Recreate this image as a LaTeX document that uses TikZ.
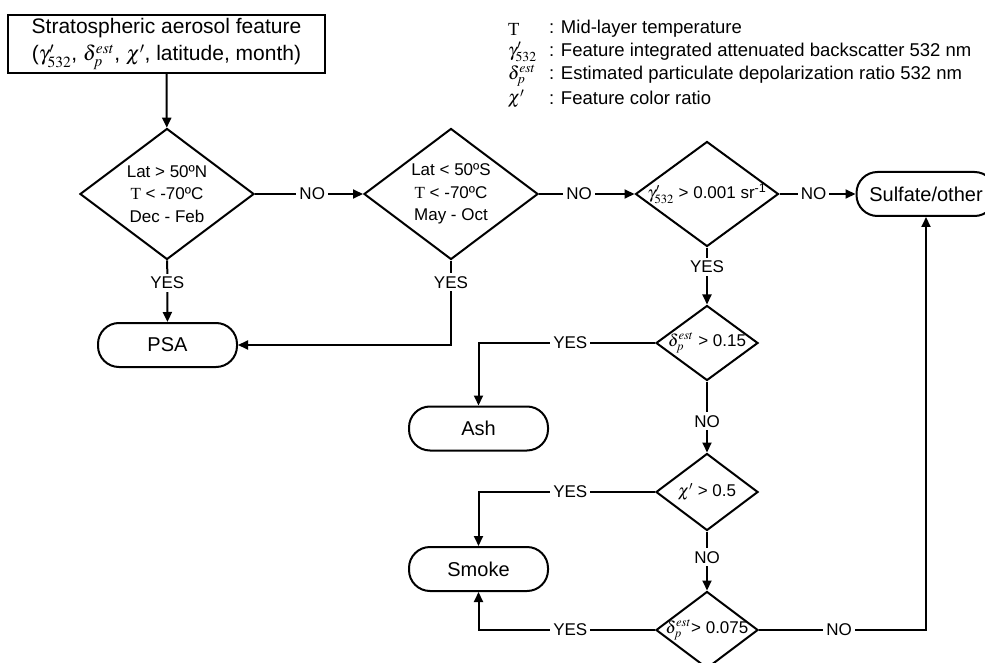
\documentclass[tikz,border=0pt]{standalone}
\usepackage{mathptmx}
\usepackage[no-math]{fontspec}
\setmainfont{Liberation Sans}
\newfontfamily\serif{Liberation Serif}
\usetikzlibrary{shapes.geometric,arrows.meta}

\begin{document}
\begin{tikzpicture}[x=1pt,y=-1pt,
    line width=2pt,
    font=\fontsize{17}{22.5}\selectfont,
    >={Triangle[length=10pt,width=9pt]},
    decision/.style={diamond, draw, inner sep=0pt},
    terminal/.style={draw, rounded corners=21pt, minimum width=139pt, minimum height=44pt, font=\fontsize{20}{24}\selectfont},
    answer/.style={fill=white, inner sep=3pt},
    legend/.style={anchor=west, inner sep=0pt, font=\fontsize{18.5}{22}\selectfont}]
    \useasboundingbox (0,0) rectangle (985,663);

    % input box and legend
    \node[draw, align=center, inner sep=2pt, minimum width=317pt, minimum height=58pt, font=\fontsize{21}{27}\selectfont] (feature) at (166.5,44)
        {Stratospheric aerosol feature\\($\gamma'_{532}$,~$\delta_p^{est}$, $\chi'$, latitude, month)};
    \node[legend] (symT) at (507,29) {\serif T};
    \node[legend] (symG) at (507,52) {$\gamma'_{532}$};
    \node[legend] (symD) at (507,76) {$\delta_p^{est}$};
    \node[legend] (symC) at (507,99) {$\chi'$};
    \node[legend] (defT) at (548,29) {: Mid-layer temperature};
    \node[legend] (defG) at (548,52) {: Feature integrated attenuated backscatter 532 nm};
    \node[legend] (defD) at (548,75) {: Estimated particulate depolarization ratio 532 nm};
    \node[legend] (defC) at (548,98) {: Feature color ratio};

    % decisions
    \node[decision, minimum width=174pt, minimum height=131pt, label={[align=center]center:Lat > 50ºN\\{\serif T} < -70ºC\\Dec - Feb}] (nhpsa) at (167,194) {};
    \node[decision, minimum width=174pt, minimum height=131pt, label={[align=center]center:Lat < 50ºS\\{\serif T} < -70ºC\\May - Oct}] (shpsa) at (451,194) {};
    \node[decision, minimum width=143pt, minimum height=105pt, label={center:$\gamma'_{532}$ > 0.001 sr\textsuperscript{-1}}] (gamma) at (707,194) {};
    \node[decision, minimum width=102pt, minimum height=75pt, label={center:$\delta_p^{est}$ > 0.15}] (depol) at (707,343) {};
    \node[decision, minimum width=102pt, minimum height=77pt, label={center:$\chi'$ > 0.5}] (color) at (707,492) {};
    \node[decision, minimum width=102pt, minimum height=77pt, label={center:$\delta_p^{est}$> 0.075}] (depolow) at (707,630) {};

    % aerosol types
    \node[terminal] (psa) at (167.5,345) {PSA};
    \node[terminal] (ash) at (478.5,428.5) {Ash};
    \node[terminal] (smoke) at (478.5,569) {Smoke};
    \node[terminal] (sulfate) at (926,194) {Sulfate/other};

    \draw[->] (feature) -- (nhpsa);
    \draw[->] (nhpsa) -- node[answer, pos=0.53] {NO} (shpsa);
    \draw[->] (shpsa) -- node[answer, pos=0.42] {NO} (gamma);
    \draw[->] (gamma) -- node[answer, pos=0.45] {NO} (sulfate);
    \draw[->] (nhpsa) -- node[answer, pos=0.36] {YES} (psa);
    \draw[->] (shpsa) |- node[answer, pos=0.13] {YES} (psa);
    \draw[->] (gamma) -- node[answer, pos=0.34] {YES} (depol);
    \draw[->] (depol) -- node[answer, pos=0.56] {NO} (color);
    \draw[->] (color) -- node[answer, pos=0.44] {NO} (depolow);
    \draw[->] (depol) -| node[answer, pos=0.24] {YES} (ash);
    \draw[->] (color) -| node[answer, pos=0.24] {YES} (smoke);
    \draw[->] (depolow) -| node[answer, pos=0.24] {YES} (smoke);
    \draw[->] (depolow) -| node[answer, pos=0.24] {NO} (sulfate);
\end{tikzpicture}
\end{document}
